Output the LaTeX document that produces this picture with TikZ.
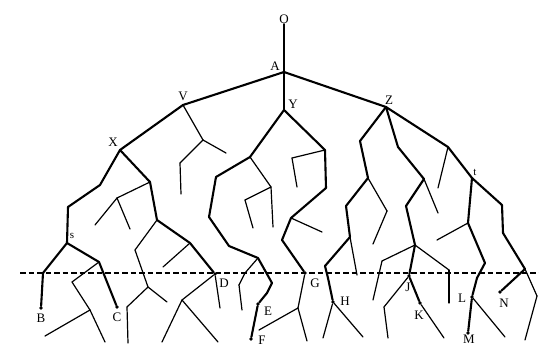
\documentclass[tikz,border=0pt]{standalone}
\usepackage{fontspec}
\setmainfont{Liberation Serif}
\usetikzlibrary{positioning}

\begin{document}
\begin{tikzpicture}[
    x=1pt, y=-1pt,
    every node/.style={font=\fontsize{13}{13}\selectfont},
    br/.style={draw=black, line width=2.1pt, line cap=round, line join=round},
    tw/.style={draw=black, line width=1.2pt, line cap=round},
    cut/.style={draw=black, line width=1.2pt, dash pattern=on 5.5pt off 3pt},
    pt/.style={circle, fill=black, inner sep=0pt, minimum size=3.8pt},
    lbl/.style={inner sep=0.5pt, font=\fontsize{13}{13}\selectfont},
    sm/.style={inner sep=0.5pt, font=\fontsize{11}{11}\selectfont},
]
\useasboundingbox (0,0) rectangle (539,348);

% ====== PRESENT-DAY LINE ======
\coordinate (cut-l) at (20,273);
\coordinate (cut-r) at (539,273);
\draw[cut] (cut-l) -- (cut-r);

% ====== TRUNK ======
\node[lbl] (O) at (284,19) {O};
\coordinate (A) at (284,72);
\coordinate (V) at (183,105);
\coordinate (Y) at (284,110);
\coordinate (Z) at (386,107);
\coordinate (X) at (120,150);

% V twig
\coordinate (V1) at (203,140);
\coordinate (V2) at (226,153);
\coordinate (V3) at (180,163);
\coordinate (V4) at (181,194);

% ====== LEFT: X ======
\coordinate (X1) at (100,185);
\coordinate (X2) at (68,207);
\coordinate (s)  at (67,243);
\coordinate (s1) at (43,273);
\node[pt] (B) at (41,308) {};
\coordinate (s2) at (99,262);
\node[pt] (C) at (117,307) {};
\coordinate (s3) at (72,282);
\coordinate (s4) at (90,310);
\coordinate (s5) at (105,342);
\coordinate (s6) at (45,336);

\coordinate (X3)  at (150,182);
\coordinate (X4)  at (157,220);
\coordinate (X5)  at (190,243);
\node[pt] (D) at (215,274) {};
\coordinate (X6)  at (117,198);
\coordinate (X7)  at (95,225);
\coordinate (X8)  at (130,229);
\coordinate (X9)  at (163,267);
\coordinate (X10) at (135,250);
\coordinate (X11) at (148,287);
\coordinate (X12) at (167,302);
\coordinate (X13) at (127,307);
\coordinate (X14) at (128,343);
\coordinate (D1) at (220,308);
\coordinate (D2) at (182,300);
\coordinate (D3) at (162,342);
\coordinate (D4) at (218,342);

% ====== MIDDLE: Y ======
\coordinate (Y1) at (250,157);
\coordinate (Y2) at (216,177);
\coordinate (Y3) at (209,217);
\coordinate (Y4) at (229,246);
\coordinate (Y5) at (258,258);
\coordinate (Y6) at (272,283);
\coordinate (Y7) at (267,293);
\node[pt] (E) at (258,304) {};
\node[pt] (F) at (251,339) {};
\coordinate (Y8)  at (271,187);
\coordinate (Y9)  at (273,227);
\coordinate (Y10) at (245,200);
\coordinate (Y11) at (253,228);
\coordinate (Y12) at (245,273);
\coordinate (Y13) at (239,285);
\coordinate (Y14) at (242,310);

\coordinate (Y15) at (325,150);
\coordinate (Y16) at (326,188);
\coordinate (Y17) at (291,218);
\coordinate (Y18) at (282,240);
\node[pt] (G) at (305,273) {};
\coordinate (Y19) at (292,158);
\coordinate (Y20) at (297,187);
\coordinate (Y21) at (322,232);
\coordinate (G1) at (298,308);
\coordinate (G2) at (307,341);
\coordinate (G3) at (259,330);

% ====== RIGHT: Z ======
\coordinate (Z1) at (360,141);
\coordinate (Z2) at (368,178);
\coordinate (Z3) at (346,206);
\coordinate (Z4) at (350,237);
\coordinate (Z5) at (325,266);
\coordinate (Z6) at (328,278);
\node[pt] (H) at (333,302) {};
\coordinate (H1) at (323,338);
\coordinate (H2) at (363,337);
\coordinate (Z7) at (387,211);
\coordinate (Z8) at (373,244);
\coordinate (Z9) at (357,275);

\coordinate (Z10) at (398,147);
\coordinate (Z11) at (424,179);
\coordinate (Z12) at (438,213);
\coordinate (Z13) at (406,206);
\coordinate (Z14) at (415,245);
\node[pt] (J) at (409,276) {};
\node[pt] (K) at (420,303) {};
\coordinate (Z15) at (382,261);
\coordinate (Z16) at (373,300);
\coordinate (Z17) at (449,270);
\coordinate (Z18) at (449,303);
\coordinate (J1) at (384,307);
\coordinate (J2) at (388,338);
\coordinate (K1) at (444,338);

\coordinate (Z19) at (448,147);
\coordinate (Z20) at (438,188);
\coordinate (t)  at (472,178);
\coordinate (T1) at (468,223);
\coordinate (T2) at (485,263);
\coordinate (T3) at (477,278);
\node[pt] (L) at (472,297) {};
\node[pt] (M) at (468,333) {};
\coordinate (T4) at (437,240);
\coordinate (L1) at (505,337);
\coordinate (T5) at (502,205);
\coordinate (T6) at (503,233);
\coordinate (T7) at (525,269);
\node[pt] (N) at (500,292) {};
\coordinate (T8) at (537,296);
\coordinate (T9) at (525,340);

% main lines
\foreach \a/\b in {A/O, A/V, A/Y, A/Z, V/X,
    X/X1, X1/X2, X2/s, s/s1, s1/B, s/s2, s2/C,
    X/X3, X3/X4, X4/X5, X5/D,
    Y/Y1, Y1/Y2, Y2/Y3, Y3/Y4, Y4/Y5, Y5/Y6, Y6/Y7, Y7/E, E/F,
    Y/Y15, Y15/Y16, Y16/Y17, Y17/Y18, Y18/G,
    Z/Z1, Z1/Z2, Z2/Z3, Z3/Z4, Z4/Z5, Z5/Z6, Z6/H,
    Z/Z10, Z10/Z11, Z11/Z13, Z13/Z14, Z14/J, J/K,
    Z/Z19, Z19/t, t/T1, T1/T2, T2/T3, T3/L, L/M,
    t/T5, T5/T6, T6/T7, T7/N}
    \draw[br] (\a) -- (\b);

% side twigs
\foreach \a/\b in {V/V1, V1/V2, V1/V3, V3/V4,
    s2/s3, s3/s4, s4/s5, s4/s6,
    X3/X6, X6/X7, X6/X8, X5/X9, X4/X10, X10/X11, X11/X12, X11/X13, X13/X14,
    D/D1, D/D2, D2/D3, D2/D4,
    Y1/Y8, Y8/Y9, Y8/Y10, Y10/Y11, Y5/Y12, Y12/Y13, Y13/Y14,
    Y15/Y19, Y19/Y20, Y17/Y21, G/G1, G1/G2, G1/G3,
    H/H1, H/H2, Z2/Z7, Z7/Z8, Z4/Z9,
    Z11/Z12, Z14/Z15, Z15/Z16, Z14/Z17, Z17/Z18, J/J1, J1/J2, K/K1,
    Z19/Z20, T1/T4, L/L1, T7/T8, T8/T9}
    \draw[tw] (\a) -- (\b);

% letters
\node[lbl] (A-l) at (275,66)  {A};
\node[lbl] (V-l) at (183,96)  {V};
\node[lbl] (Y-l) at (293,104) {Y};
\node[lbl] (Z-l) at (389,100) {Z};
\node[lbl] (X-l) at (113,142) {X};
\node[sm]  (s-l) at (72,236)  {s};
\node[sm]  (t-l) at (475,172) {t};
\node[lbl] (B-l) at (41,318)  {B};
\node[lbl] (C-l) at (117,317) {C};
\node[lbl] (D-l) at (224,283) {D};
\node[lbl] (E-l) at (268,311) {E};
\node[lbl] (F-l) at (262,340) {F};
\node[lbl] (G-l) at (315,283) {G};
\node[lbl] (H-l) at (345,301) {H};
\node[lbl] (J-l) at (408,287) {J};
\node[lbl] (K-l) at (419,315) {K};
\node[lbl] (L-l) at (462,298) {L};
\node[lbl] (M-l) at (469,339) {M};
\node[lbl] (N-l) at (504,303) {N};

\end{tikzpicture}
\end{document}
